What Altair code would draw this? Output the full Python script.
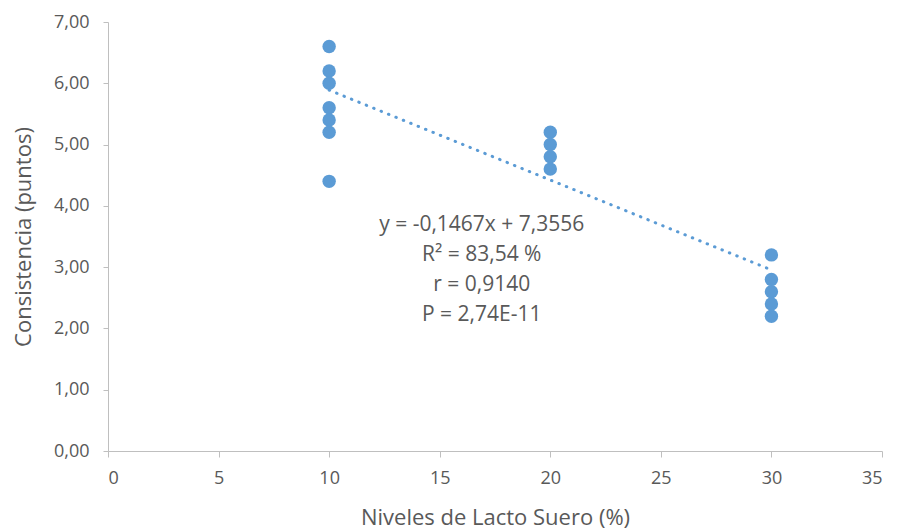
import altair as alt
import pandas as pd

# Observed points
x_vals = [10, 10, 10, 10, 10, 10, 10, 20, 20, 20, 20, 30, 30, 30, 30, 30]
y_vals = [6.6, 6.2, 6.0, 5.6, 5.4, 5.2, 4.4, 5.2, 5.0, 4.8, 4.6, 3.2, 2.8, 2.6, 2.4, 2.2]

# Stated trend equation
slope = -0.1467
intercept = 7.3556
trend_x = [10, 30]

annotation = "y = -0,1467x + 7,3556\nR² = 83,54 %\nr = 0,9140\nP = 2,74E-11"
ann_x = 16.9
ann_y = 3.69

x_ticks = [0, 5, 10, 15, 20, 25, 30, 35]
y_ticks = [0, 1, 2, 3, 4, 5, 6, 7]

pts = pd.DataFrame({"x": x_vals, "y": y_vals})
trend = pd.DataFrame({"x": trend_x, "y": [slope * v + intercept for v in trend_x]})
ann = pd.DataFrame({"x": [ann_x], "y": [ann_y], "t": [annotation]})

FONT = "Open Sans"
AX = "#bfbfbf"
TXT = "#595959"
BLUE = "#5B9BD5"

xscale = alt.Scale(domain=[0, 35], nice=False)
yscale = alt.Scale(domain=[0, 7], nice=False)

xaxis = alt.Axis(values=x_ticks, title="Niveles de Lacto Suero (%)", grid=False,
                 domainColor=AX, tickColor=AX, tickSize=6, labelPadding=12,
                 labelColor=TXT, labelFontSize=18, labelFont=FONT,
                 titleColor=TXT, titleFontSize=22, titleFont=FONT, titleFontWeight="normal",
                 titlePadding=20)
yaxis = alt.Axis(values=y_ticks, title="Consistencia (puntos)", grid=False,
                 labelExpr="replace(format(datum.value, '.2f'), '.', ',')",
                 domainColor=AX, tickColor=AX, tickSize=5, labelPadding=14,
                 labelColor=TXT, labelFontSize=18, labelFont=FONT,
                 titleColor=TXT, titleFontSize=22, titleFont=FONT, titleFontWeight="normal",
                 titlePadding=18)

points = alt.Chart(pts).mark_circle(size=180, color=BLUE, opacity=1).encode(
    x=alt.X("x:Q", scale=xscale, axis=xaxis),
    y=alt.Y("y:Q", scale=yscale, axis=yaxis),
)

line = alt.Chart(trend).mark_line(color=BLUE, strokeWidth=3, strokeDash=[0.5, 7.5],
                                  strokeCap="round").encode(
    x=alt.X("x:Q", scale=xscale),
    y=alt.Y("y:Q", scale=yscale),
)

text = alt.Chart(ann).mark_text(font=FONT, fontSize=21, color=TXT, align="center",
                                baseline="middle", lineBreak="\n", lineHeight=30).encode(
    x=alt.X("x:Q", scale=xscale),
    y=alt.Y("y:Q", scale=yscale),
    text="t:N",
)

chart = alt.layer(line, points, text).properties(
    width=774, height=429,
    autosize=alt.AutoSizeParams(type="none"),
    padding={"left": 100, "top": 14, "right": 10, "bottom": 80},
    view=alt.ViewBackground(stroke="white", strokeWidth=0),
).configure_view(stroke="white", strokeWidth=0).configure(background="white")

chart.save("out.html", embed_options={"renderer": "svg", "actions": False})
